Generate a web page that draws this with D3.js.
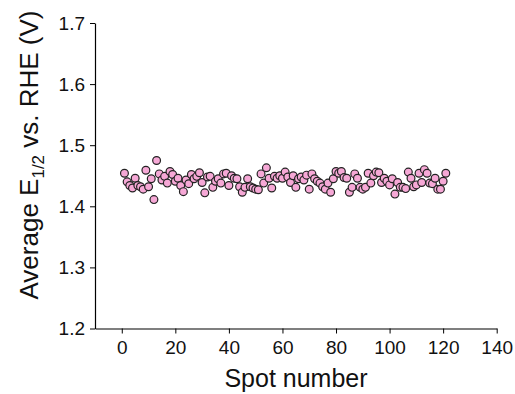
<!DOCTYPE html>
<html><head><meta charset="utf-8">
<script src="https://cdn.jsdelivr.net/npm/d3@7"></script>
<style>body{margin:0;background:#fff}svg{display:block}text{font-family:"Liberation Sans",Arial,sans-serif}</style>
</head><body>
<svg id="c" width="515" height="394"></svg>
<script>
const spot = d3.range(1, 122);
const e12 = [1.454,1.440,1.434,1.430,1.446,1.434,1.432,1.428,1.459,1.432,
1.445,1.411,1.475,1.453,1.443,1.449,1.438,1.457,1.452,1.441,
1.446,1.434,1.424,1.443,1.437,1.452,1.445,1.449,1.455,1.439,
1.422,1.448,1.449,1.431,1.441,1.445,1.438,1.453,1.454,1.434,
1.450,1.446,1.445,1.432,1.423,1.431,1.445,1.432,1.430,1.428,
1.427,1.453,1.438,1.463,1.446,1.430,1.449,1.446,1.450,1.446,
1.456,1.448,1.439,1.450,1.431,1.445,1.448,1.443,1.451,1.428,
1.453,1.445,1.441,1.438,1.432,1.428,1.438,1.423,1.445,1.457,
1.454,1.457,1.447,1.446,1.423,1.431,1.453,1.446,1.431,1.428,
1.431,1.454,1.438,1.450,1.456,1.455,1.439,1.446,1.441,1.435,
1.445,1.420,1.439,1.431,1.431,1.429,1.456,1.446,1.432,1.435,
1.454,1.439,1.460,1.454,1.438,1.437,1.446,1.428,1.428,1.441,1.454];
const xTicks = [0,20,40,60,80,100,120,140];
const yTicks = [1.2,1.3,1.4,1.5,1.6,1.7];

const svg = d3.select("#c");
const x = d3.scaleLinear().domain([-10,140]).range([95,496.7]);
const y = d3.scaleLinear().domain([1.2,1.7]).range([328.5,23]);

const gx = svg.append("g").attr("transform",`translate(0,${y(1.2)})`);
gx.call(d3.axisBottom(x).tickValues(d3.range(-10,141,10)).tickSize(3).tickFormat(""));
gx.call(d3.axisBottom(x).tickValues(xTicks).tickSize(5).tickSizeOuter(0).tickPadding(4).tickFormat(d3.format("d")));
const gy = svg.append("g").attr("transform",`translate(${x(-10)},0)`);
gy.call(d3.axisLeft(y).tickValues(d3.range(1.2,1.701,0.05)).tickSize(3).tickFormat(""));
gy.call(d3.axisLeft(y).tickValues(yTicks).tickSize(5).tickSizeOuter(0).tickPadding(5).tickFormat(d3.format(".1f")));
svg.selectAll(".domain").attr("stroke","#000").attr("stroke-width",1.2);
svg.selectAll(".tick line").attr("stroke","#000").attr("stroke-width",1);
svg.selectAll(".tick text").attr("font-size",19).attr("fill","#111").attr("font-family","Liberation Sans, Arial, sans-serif");
gx.selectAll(".tick text").attr("dy","0.85em");

svg.append("g").selectAll("circle").data(spot).join("circle")
  .attr("cx",(d,i)=>x(d)).attr("cy",(d,i)=>y(e12[i])).attr("r",3.9)
  .attr("fill","#f6a8d6").attr("stroke","#222").attr("stroke-width",1.2);

svg.append("text").attr("x",296).attr("y",387).attr("text-anchor","middle")
  .attr("font-size",25).attr("fill","#111").text("Spot number");
const yl = svg.append("text").attr("transform","translate(38,155) rotate(-90)")
  .attr("text-anchor","middle").attr("font-size",26).attr("fill","#111");
yl.append("tspan").text("Average E");
yl.append("tspan").attr("font-size",17).attr("dy",6).text("1/2");
yl.append("tspan").attr("dy",-6).text(" vs. RHE (V)");
</script>
</body></html>
